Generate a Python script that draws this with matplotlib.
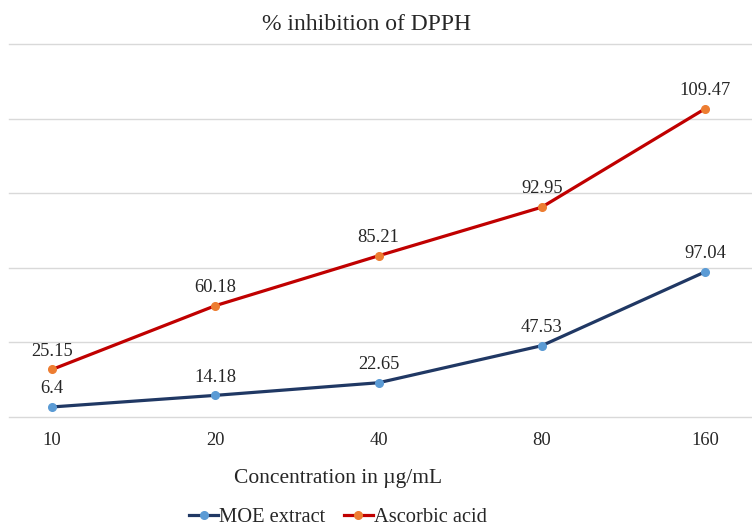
import matplotlib
matplotlib.use("Agg")
import matplotlib.pyplot as plt
import numpy as np

categories = ["10", "20", "40", "80", "160"]
moe_extract = [6.4, 14.18, 22.65, 47.53, 97.04]
ascorbic_acid = [25.15, 60.18, 85.21, 92.95, 109.47]

plt.rcParams['font.family'] = ['Liberation Serif', 'DejaVu Serif']

W, H = 752, 529
fig = plt.figure(figsize=(W / 100, H / 100), dpi=100)
ax = fig.add_axes([9 / W, (H - 416.5) / H, (752 - 9) / W, (416.5 - 44) / H])

x = np.arange(len(categories))
# stacked line chart: second series drawn on top of the first
stack1 = np.array(moe_extract)
stack2 = stack1 + np.array(ascorbic_acid)

ax.plot(x, stack1, color="#203864", lw=2.3, marker="o", ms=5.5,
        mfc="#5B9BD5", mec="#5B9BD5", label="MOE extract", zorder=3)
ax.plot(x, stack2, color="#C00000", lw=2.3, marker="o", ms=5.5,
        mfc="#ED7D31", mec="#ED7D31", label="Ascorbic acid", zorder=3)

for xi, yi, v in zip(x, stack1, moe_extract):
    ax.annotate(f"{v:g}", (xi, yi), xytext=(0, 7), textcoords="offset points",
                ha="center", va="bottom", fontsize=13.3, color="#262626")
for xi, yi, v in zip(x, stack2, ascorbic_acid):
    ax.annotate(f"{v:g}", (xi, yi), xytext=(0, 7), textcoords="offset points",
                ha="center", va="bottom", fontsize=13.3, color="#262626")

ax.set_xlim(-43 / 163.25, 4 + 47 / 163.25)
ax.set_ylim(0, 250)
yt = np.arange(0, 251, 50)
ax.set_yticks(yt)
for yv in yt:
    ax.axhline(yv, color="#D9D9D9", lw=1, zorder=0, clip_on=False)
ax.tick_params(axis="y", left=False, labelleft=False)
ax.set_xticks(x)
ax.set_xticklabels(categories, fontsize=13.3, color="#262626")
ax.tick_params(axis="x", length=0, pad=11)
for s in ax.spines.values():
    s.set_visible(False)

fig.text(366 / W, 1 - 24 / H, "% inhibition of DPPH", ha="center", va="center",
         fontsize=17, color="#262626")
fig.text(338 / W, 1 - 478 / H, "Concentration in µg/mL", ha="center", va="center",
         fontsize=15.5, color="#262626")

fig.legend(loc="center", bbox_to_anchor=(338 / W, 1 - 517 / H), ncol=2,
           frameon=False, fontsize=14.8, handlelength=1.4, handletextpad=0.05,
           columnspacing=0.9, labelcolor="#262626")

fig.savefig("out.png", dpi=100)
